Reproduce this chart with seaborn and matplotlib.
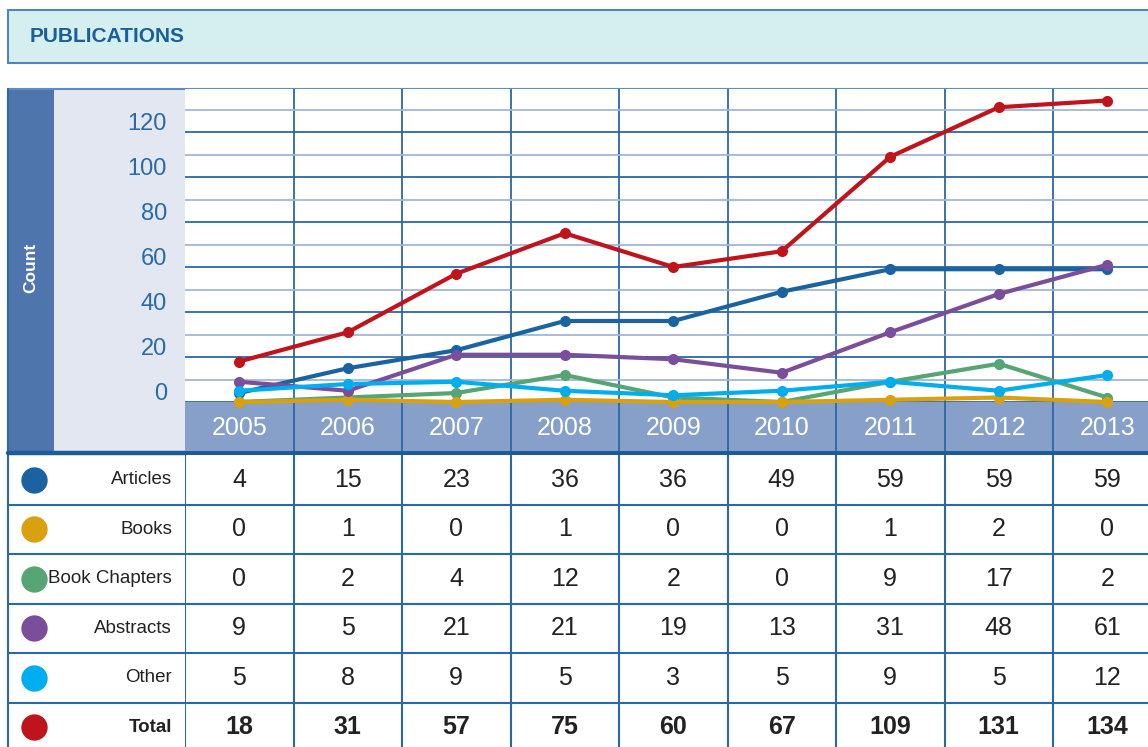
import matplotlib
matplotlib.use("Agg")
import matplotlib.pyplot as plt
import matplotlib.transforms as mtransforms
from matplotlib.patches import Rectangle
import seaborn as sns
import pandas as pd

# ── Data ──────────────────────────────────────────────────────────────────────
years = [2005, 2006, 2007, 2008, 2009, 2010, 2011, 2012, 2013]
series = ["Articles", "Books", "Book Chapters", "Abstracts", "Other", "Total"]

articles      = [4, 15, 23, 36, 36, 49, 59, 59, 59]
books         = [0, 1, 0, 1, 0, 0, 1, 2, 0]
book_chapters = [0, 2, 4, 12, 2, 0, 9, 17, 2]
abstracts     = [9, 5, 21, 21, 19, 13, 31, 48, 61]
other         = [5, 8, 9, 5, 3, 5, 9, 5, 12]
total         = [18, 31, 57, 75, 60, 67, 109, 131, 134]

y_ticks = [0, 20, 40, 60, 80, 100, 120]

colors = {
    "Articles":      "#1a63a0",
    "Books":         "#d9a10f",
    "Book Chapters": "#57a575",
    "Abstracts":     "#7a4e9b",
    "Other":         "#00aeef",
    "Total":         "#c0141c",
}

values = {"Articles": articles, "Books": books, "Book Chapters": book_chapters,
          "Abstracts": abstracts, "Other": other, "Total": total}

df = pd.DataFrame([(s, y, v) for s in series for y, v in zip(years, values[s])],
                  columns=["Series", "Year", "Count"])

# ── Layout (pixels) ───────────────────────────────────────────────────────────
W, H = 1148, 747
LEFT, COLW = 185, 108.5
RIGHT = LEFT + COLW * len(years)
TOP, ZERO, BAND_BOT = 89, 402, 451
PX_PER_UNIT = 2.25
TAB_TOP, ROWH = 455, 49.5

GRID_DARK = "#2a68a6"
GRID_LIGHT = "#a3b6d8"
TEXT = "#222222"


def frac(x0, y0, x1, y1):
    return [x0 / W, 1 - y1 / H, (x1 - x0) / W, (y1 - y0) / H]


sns.set_theme(style="white")
plt.rcParams["font.family"] = ["Liberation Sans", "DejaVu Sans"]

fig = plt.figure(figsize=(W / 100, H / 100), dpi=100)
fig.patch.set_facecolor("white")

# background canvas in pixel coordinates
bg = fig.add_axes([0, 0, 1, 1], zorder=0)
bg.set_xlim(0, W)
bg.set_ylim(H, 0)
bg.axis("off")

# header
bg.add_patch(Rectangle((8, 10), W, 53, facecolor="#d5eef0", edgecolor="#4f85b9", lw=1.5))
bg.text(30, 37, "PUBLICATIONS", fontsize=15, fontweight="bold", color="#1b5e9c",
        va="center", ha="left")

# left bands
bg.add_patch(Rectangle((8, TOP), 46, BAND_BOT - TOP, facecolor="#4f75ad", lw=0))
bg.add_patch(Rectangle((54, TOP), LEFT - 54, BAND_BOT - TOP, facecolor="#e2e7f2", lw=0))
bg.text(31, 268, "Count", rotation=90, color="white", fontsize=12.5, fontweight="bold",
        ha="center", va="center")
bg.plot([8, W], [TOP, TOP], color="#5b8fc2", lw=1.5)
bg.plot([8, 8], [TOP, H], color=GRID_DARK, lw=1.5)

# ── Main line chart ──────────────────────────────────────────────────────────
ax = fig.add_axes(frac(LEFT, TOP, RIGHT, ZERO), zorder=3)
ax.set_facecolor("white")
draw_order = ["Articles", "Book Chapters", "Books", "Abstracts", "Other", "Total"]
sns.lineplot(data=df, x="Year", y="Count", hue="Series", hue_order=draw_order,
             palette=colors, marker="o", markersize=8, markeredgewidth=0,
             linewidth=3, legend=False, ax=ax)
for line in ax.lines:
    line.set_clip_on(False)

ax.set_xlim(years[0] - 0.5, years[-1] + 0.5)
ax.set_ylim(0, (ZERO - TOP) / PX_PER_UNIT)
ax.set_yticks(y_ticks)
ax.set_yticks([t + 10 for t in y_ticks], minor=True)
ax.set_xticks([y - 0.5 for y in years[1:]], minor=True)
ax.set_xticks([])
ax.yaxis.grid(True, which="major", color=GRID_DARK, lw=1.3)
ax.yaxis.grid(True, which="minor", color=GRID_LIGHT, lw=1.3)
ax.xaxis.grid(True, which="minor", color=GRID_DARK, lw=1.3)
ax.set_axisbelow(True)
ax.tick_params(which="both", length=0, labelleft=False, labelbottom=False)
ax.set_xlabel("")
ax.set_ylabel("")
for sp in ax.spines.values():
    sp.set_visible(False)

lbl_tr = mtransforms.offset_copy(ax.get_yaxis_transform(), fig=fig, x=-18, y=8, units="dots")
for t in y_ticks:
    ax.text(0, t, str(t), transform=lbl_tr, ha="right", va="center",
            fontsize=17, color="#2b6ba5")

# ── Year band ────────────────────────────────────────────────────────────────
band = fig.add_axes(frac(LEFT, ZERO, RIGHT, BAND_BOT), zorder=2)
band.set_facecolor("#87a0c9")
band.set_xlim(ax.get_xlim())
band.set_ylim(0, 1)
for y in years:
    band.text(y, 0.47, str(y), color="white", fontsize=18, ha="center", va="center")
for y in years[1:]:
    band.axvline(y - 0.5, color=GRID_DARK, lw=1.3)
band.set_xticks([])
band.set_yticks([])
for sp in band.spines.values():
    sp.set_visible(False)

bg.plot([8, W], [BAND_BOT + 1.5, BAND_BOT + 1.5], color="#1d5c98", lw=3.2)

# ── Table ────────────────────────────────────────────────────────────────────
tab = fig.add_axes(frac(LEFT, TAB_TOP, RIGHT, TAB_TOP + ROWH * len(series)), zorder=2)
tab.set_facecolor("white")
tab.set_xlim(ax.get_xlim())
tab.set_ylim(len(series), 0)
for i, s in enumerate(series):
    bold = "bold" if s == "Total" else "normal"
    for y, v in zip(years, values[s]):
        tab.text(y, i + 0.5, str(v), ha="center", va="center", fontsize=18,
                 fontweight=bold, color=TEXT)
    if i > 0:
        tab.axhline(i, color=GRID_DARK, lw=1.5)
for y in [years[0] - 0.5] + [y - 0.5 for y in years[1:]]:
    tab.axvline(y, color=GRID_DARK, lw=1.5)
tab.set_xticks([])
tab.set_yticks([])
for sp in tab.spines.values():
    sp.set_visible(False)

# row labels and colour dots on the pixel canvas
for i, s in enumerate(series):
    cy = TAB_TOP + ROWH * (i + 0.5)
    bg.scatter([34], [cy], s=360, color=colors[s], lw=0, zorder=3)
    bg.text(172, cy, s, ha="right", va="center", fontsize=13.5, color=TEXT,
            fontweight="bold" if s == "Total" else "normal")
    if i > 0:
        bg.plot([8, LEFT], [TAB_TOP + ROWH * i] * 2, color=GRID_DARK, lw=1.5)

fig.savefig("out.png", dpi=100)
